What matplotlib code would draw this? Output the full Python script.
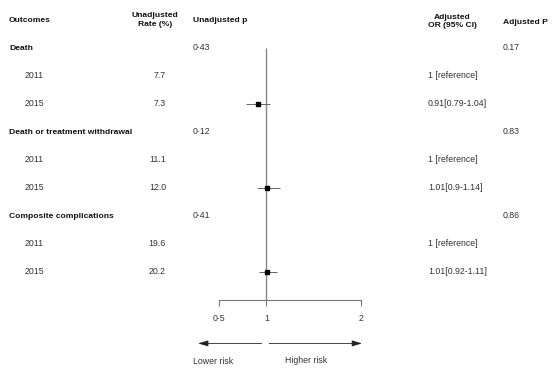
import matplotlib
matplotlib.use("Agg")
import matplotlib.pyplot as plt
import matplotlib.transforms as mtransforms

plt.rcParams["font.family"] = ["Liberation Sans", "DejaVu Sans"]

groups = ["Death", "Death or treatment withdrawal", "Composite complications"]
years = ["2011", "2015"]
unadj_rate = [[7.7, 7.3], [11.1, 12.0], [19.6, 20.2]]
unadj_p = ["0·43", "0·12", "0·41"]
or_est = [[None, 0.91], [None, 1.01], [None, 1.01]]
or_lo = [[None, 0.79], [None, 0.90], [None, 0.92]]
or_hi = [[None, 1.04], [None, 1.14], [None, 1.11]]
or_text = [["1 [reference]", "0.91[0.79-1.04]"],
           ["1 [reference]", "1.01[0.9-1.14]"],
           ["1 [reference]", "1.01[0.92-1.11]"]]
adj_p = ["0.17", "0.83", "0.86"]
x_ticks = [0.5, 1, 2]
x_ticklabels = ["0·5", "1", "2"]

W, H = 556, 371
fig = plt.figure(figsize=(W / 100, H / 100), dpi=100)
ax = fig.add_axes([219 / W, 71 / H, 142 / W, 280 / H])
ax.set_xlim(0.5, 2)
ax.set_ylim(10, 0)
for s in ["top", "right", "left"]:
    ax.spines[s].set_visible(False)
ax.spines["bottom"].set_color("#777777")
ax.spines["bottom"].set_linewidth(0.8)
ax.set_yticks([])
ax.set_xticks(x_ticks)
ax.set_xticklabels(x_ticklabels)
ax.tick_params(axis="x", length=4, width=0.8, color="#777777", labelsize=6.3,
               labelcolor="#333333", pad=6)

tr = mtransforms.blended_transform_factory(fig.transFigure, ax.transData)
fs = 6.3
fsb = 6.1
txt = "#333333"


def put(xpx, row, s, **kw):
    kw.setdefault("fontsize", fs)
    kw.setdefault("color", txt)
    kw.setdefault("va", "center")
    ax.text(xpx / W, row, s, transform=tr, **kw)


# header
put(9, 0, "Outcomes", fontweight="bold", fontsize=fsb, color="#111111")
put(155, 0, "Unadjusted\nRate (%)", fontweight="bold", fontsize=fsb, color="#111111",
    ha="center", linespacing=1.3)
put(193, 0, "Unadjusted p", fontweight="bold", fontsize=fsb, color="#111111")
put(452, 0.05, "Adjusted\nOR (95% CI)", fontweight="bold", fontsize=fsb, color="#111111",
    ha="center", linespacing=1.3)
put(503, 0.1, "Adjusted P", fontweight="bold", fontsize=fsb, color="#111111")

row = 1
first_row = None
for g, grp in enumerate(groups):
    if first_row is None:
        first_row = row
    put(9, row, grp, fontweight="bold", fontsize=fsb, color="#111111")
    put(193, row, unadj_p[g])
    put(503, row, adj_p[g])
    row += 1
    for k, yr in enumerate(years):
        put(25, row, yr)
        put(166, row, f"{unadj_rate[g][k]:.1f}", ha="right")
        put(428, row, or_text[g][k])
        if or_est[g][k] is not None:
            ax.hlines(row, or_lo[g][k], or_hi[g][k], color="#666666", linewidth=0.7, zorder=3)
            ax.plot(or_est[g][k], row, marker="s", markersize=3.0, color="black",
                    linestyle="none", zorder=4)
        row += 1

ax.vlines(1, first_row, 10, color="#888888", linewidth=1.0, zorder=2)

# direction arrows
arrow_row = 11.55
ax.annotate("", xy=(0.28, arrow_row), xytext=(0.95, arrow_row), annotation_clip=False,
            arrowprops=dict(arrowstyle="-|>,head_length=0.6,head_width=0.18",
                            color="#222222", linewidth=0.6, shrinkA=0, shrinkB=0))
ax.annotate("", xy=(2.01, arrow_row), xytext=(1.03, arrow_row), annotation_clip=False,
            arrowprops=dict(arrowstyle="-|>,head_length=0.6,head_width=0.18",
                            color="#222222", linewidth=0.6, shrinkA=0, shrinkB=0))
ax.text(0.23, 12.2, "Lower risk", fontsize=fs, color=txt, va="center", ha="left")
ax.text(1.2, 12.15, "Higher risk", fontsize=fs, color=txt, va="center", ha="left")

fig.savefig("out.png", dpi=100)
